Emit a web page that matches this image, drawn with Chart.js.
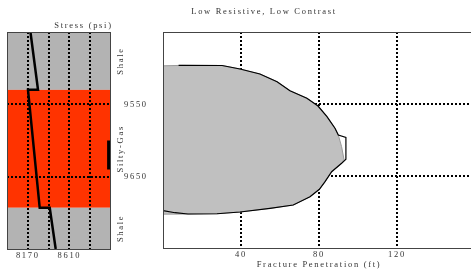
<!DOCTYPE html>
<html>
<head>
<meta charset="utf-8">
<script src="https://cdn.jsdelivr.net/npm/chart.js@4/dist/chart.umd.min.js"></script>
<style>
  html, body { margin: 0; padding: 0; background: #fff; overflow: hidden; width: 471px; height: 274px; }
  #left { position: absolute; left: 0; top: 0; }
  #right { position: absolute; left: 150px; top: 0; }
</style>
</head>
<body>
<canvas id="left" width="160" height="274"></canvas>
<canvas id="right" width="330" height="274"></canvas>
<script>
// profundidade (ft) - eixo comum aos dois graficos
const depthTicks = [9550, 9650];

// perfil de tensao
const stressTicks = [8170, 8390, 8610, 8830];
const stressLabels = ['8170', '', '8610', ''];
const stressDepth = [9450, 9530, 9530, 9693, 9693, 9750];
const stressPsi = [8198, 8278, 8172, 8296, 8402, 8465];

// camadas
const layerNames = ['Shale', 'Silty-Gas', 'Shale'];
const layerTop = [9450, 9530, 9693];
const layerBottom = [9530, 9693, 9750];
const layerColors = ['#b3b3b3', '#ff3300', '#b3b3b3'];

// canhoneado
const perfDepth = [9600, 9640];
const perfPsi = [9030, 9030];

// penetracao da fratura
const penTicks = [40, 80, 120];
const fillFt = [0, 10.3, 30.3, 39.5, 49.7, 58.5, 65.1, 73.8, 79.5, 84.1, 88.2, 89.9, 91.6, 92.8,
  91.6, 86.5, 83.1, 80.2, 75.4, 66.8, 54.9, 39.5, 27.7, 12.8, 0];
const fillDepth = [9497, 9496.3, 9496.5, 9501.4, 9508.3, 9519, 9531.5, 9542, 9552.8, 9567.6, 9583.7, 9593, 9609.3, 9626.8,
  9632.4, 9644, 9657.9, 9668.5, 9678.7, 9690.3, 9694.9, 9700, 9702.4, 9702.8, 9703];
const lengthFt = [8, 30.3, 39.5, 49.7, 58.5, 65.1, 73.8, 79.5, 84.1, 88.2, 89.9, 93.8, 93.8,
  91.6, 86.5, 83.1, 80.2, 75.4, 66.8, 54.9, 39.5, 27.7, 12.8, 6.2, 0];
const lengthDepth = [9496.4, 9496.5, 9501.4, 9508.3, 9519, 9531.5, 9542, 9552.8, 9567.6, 9583.7, 9593, 9596.3, 9626.8,
  9632.4, 9644, 9657.9, 9668.5, 9678.7, 9690.3, 9694.9, 9700, 9702.4, 9702.8, 9701, 9698.2];

const font = { family: '"Liberation Serif", "DejaVu Serif", serif', size: 8.5, weight: 'normal' };
const fontStr = '8.5px "Liberation Serif", "DejaVu Serif", serif';
const textColor = '#333';
const gridLines = { color: '#000', lineWidth: 2, drawTicks: false };
const dots = { display: false, dash: [2, 2] };

function pts(xs, ys) {
  return xs.map((v, i) => ({ x: v, y: ys[i] }));
}

// espacamento entre letras, como no original
const spacing = {
  id: 'spacing',
  beforeUpdate(chart) { chart.ctx.letterSpacing = '1.7px'; },
  beforeDraw(chart) { chart.ctx.letterSpacing = '1.7px'; }
};

const frame = {
  id: 'frame',
  afterDraw(chart) {
    const a = chart.chartArea, ctx = chart.ctx;
    ctx.save();
    ctx.strokeStyle = '#444';
    ctx.lineWidth = 1;
    ctx.strokeRect(Math.round(a.left) + 0.5, Math.round(a.top) + 0.5, Math.round(a.right - a.left) - 1, Math.round(a.bottom - a.top));
    ctx.restore();
  }
};

const layers = {
  id: 'layers',
  beforeDraw(chart) {
    const a = chart.chartArea, ctx = chart.ctx, y = chart.scales.y;
    ctx.save();
    layerTop.forEach((t, i) => {
      const y0 = y.getPixelForValue(t), y1 = y.getPixelForValue(layerBottom[i]);
      ctx.fillStyle = layerColors[i];
      ctx.fillRect(a.left, y0, a.right - a.left, y1 - y0);
    });
    ctx.restore();
  },
  afterDraw(chart) {
    const ctx = chart.ctx, y = chart.scales.y;
    ctx.save();
    ctx.letterSpacing = '1.7px';
    ctx.font = fontStr;
    ctx.fillStyle = textColor;
    ctx.textAlign = 'center';
    ctx.textBaseline = 'middle';
    layerNames.forEach((n, i) => {
      const mid = y.getPixelForValue((layerTop[i] + layerBottom[i]) / 2);
      ctx.save();
      ctx.translate(121, mid);
      ctx.rotate(-Math.PI / 2);
      ctx.fillText(n, 0, 0);
      ctx.restore();
    });
    ctx.restore();
  }
};

new Chart(document.getElementById('left'), {
  type: 'scatter',
  data: {
    datasets: [
      { data: pts(stressPsi, stressDepth), showLine: true, borderColor: '#000', borderWidth: 2.5, pointRadius: 0, borderJoinStyle: 'miter' },
      { data: pts(perfPsi, perfDepth), showLine: true, borderColor: '#000', borderWidth: 4, pointRadius: 0, borderCapStyle: 'butt' }
    ]
  },
  options: {
    responsive: false,
    animation: false,
    devicePixelRatio: 1,
    layout: { padding: { left: 7, top: 0, right: 0, bottom: 0 } },
    plugins: {
      legend: { display: false },
      tooltip: { enabled: false },
      title: { display: true, text: 'Stress (psi)', color: textColor, font: font, padding: { top: 21, bottom: 0.8 } }
    },
    scales: {
      x: {
        type: 'linear', min: 7950, max: 9050,
        afterBuildTicks: s => { s.ticks = stressTicks.map(v => ({ value: v })); },
        afterFit: s => { s.height = 25; },
        ticks: { callback: (v, i) => stressLabels[i], color: textColor, font: font, padding: 2, maxRotation: 0, autoSkip: false },
        grid: gridLines,
        border: dots
      },
      y: {
        type: 'linear', min: 9450, max: 9750, reverse: true,
        afterBuildTicks: s => { s.ticks = depthTicks.map(v => ({ value: v })); },
        afterFit: s => { s.width = 0; },
        ticks: { display: false },
        grid: gridLines,
        border: dots
      },
      y2: {
        type: 'linear', position: 'right', min: 9450, max: 9750, reverse: true,
        afterBuildTicks: s => { s.ticks = depthTicks.map(v => ({ value: v })); },
        afterFit: s => { s.width = 49; },
        ticks: { callback: v => String(v), color: textColor, font: font, padding: 13 },
        grid: { drawOnChartArea: false, drawTicks: false },
        border: { display: false }
      }
    }
  },
  plugins: [spacing, layers, frame]
});

const mainTitle = {
  id: 'mainTitle',
  afterDraw(chart) {
    const ctx = chart.ctx;
    ctx.save();
    ctx.letterSpacing = '1.7px';
    ctx.font = fontStr;
    ctx.fillStyle = textColor;
    ctx.textAlign = 'center';
    ctx.textBaseline = 'middle';
    ctx.fillText('Low Resistive, Low Contrast', 114, 12);
    ctx.restore();
  }
};

new Chart(document.getElementById('right'), {
  type: 'scatter',
  data: {
    datasets: [
      { data: pts(fillFt, fillDepth), order: 2, showLine: true, fill: 'shape', backgroundColor: '#c0c0c0', borderColor: '#9a9a9a', borderWidth: 1, pointRadius: 0 },
      { data: pts(lengthFt, lengthDepth), order: 1, showLine: true, fill: false, borderColor: '#000', borderWidth: 1.2, pointRadius: 0 }
    ]
  },
  options: {
    responsive: false,
    animation: false,
    devicePixelRatio: 1,
    layout: { padding: { left: 13, top: 32, right: 5, bottom: 0 } },
    plugins: { legend: { display: false }, tooltip: { enabled: false } },
    scales: {
      x: {
        type: 'linear', min: 0, max: 160,
        afterBuildTicks: s => { s.ticks = penTicks.map(v => ({ value: v })); },
        afterFit: s => { s.height = 26; },
        ticks: { color: textColor, font: font, padding: 2, maxRotation: 0 },
        title: { display: true, text: 'Fracture Penetration (ft)', color: textColor, font: font, padding: { top: 0, bottom: 4.2 } },
        grid: gridLines,
        border: dots
      },
      y: {
        type: 'linear', min: 9450, max: 9750, reverse: true,
        afterBuildTicks: s => { s.ticks = depthTicks.map(v => ({ value: v })); },
        afterFit: s => { s.width = 0; },
        ticks: { display: false },
        grid: gridLines,
        border: dots
      }
    }
  },
  plugins: [spacing, frame, mainTitle]
});
</script>
</body>
</html>
